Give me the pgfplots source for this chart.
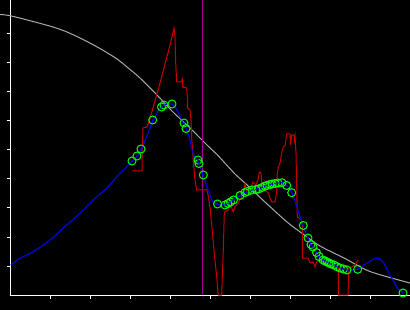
\documentclass[border=0pt]{standalone}
\usepackage{pgfplots}
\pgfplotsset{compat=1.18}
\definecolor{rd}{RGB}{200,0,0}
\definecolor{bl}{RGB}{0,0,255}
\definecolor{gr}{RGB}{0,255,0}
\definecolor{gy}{RGB}{170,170,170}
\definecolor{mg}{RGB}{160,0,160}
\begin{document}
\begin{tikzpicture}[x=1pt,y=1pt]
\useasboundingbox (0,0) rectangle (410,310);
\fill[black] (0,0) rectangle (410,310);
\begin{axis}[at={(10pt,15pt)}, anchor=south west, scale only axis,
  width=400pt, height=295pt,
  xmin=10, xmax=410, ymin=0, ymax=295, y dir=reverse,
  axis x line*=bottom, axis y line*=left, clip=false,
  axis line style={white, line width=1pt, -},
  tick style={white, line width=1pt}, major tick length=3.5pt, tick align=outside,
  xtick={50,90,130,170,210,250,290,330,370},
  ytick={34,63,92,121,150,179,208,237,266},
  xticklabels={}, yticklabels={}]
% gray curve
\addplot[gy, line width=1pt, smooth] coordinates {
(0,14.5) (10,15.7) (33,21.5) (53,27) (67,32) (83,39.5) (100,48.5) (117,59) (130,69.5) (140,78) (157,95) (173,112) (190,128) (208,146) (217,154.5) (235,174) (245,183) (265,202) (287,222) (303,234) (320,246) (345,258.5) (370,271.5) (410,283)};
% magenta vertical
\addplot[mg, line width=1pt] coordinates {(202,0) (202,295)};
% red signal
\addplot[rd, line width=1pt] coordinates {
(132,171) (142,171) (142,155) (143,128) (147,127) (150,118) (155,101) (160,83) (165,64) (170,45) (172,37) (174,28) (175,37) (175.7,63) (176.7,82) (181.7,82) (182.3,78) (182.7,87) (186.7,88) (187.7,100) (187.7,108) (190,110) (191,120) (191.7,138) (193.3,160) (195,180) (196.7,190) (206.7,190) (207.7,193) (210,207) (211.7,225) (213.3,243) (215,260) (216.7,277) (217.7,290) (218.3,295) (221.7,295) (222.3,277) (223.3,250) (224.3,213) (225,211.7) (228.3,210) (230,205) (231.7,208) (233.3,211.7) (235,206.7) (238,203) (241.7,197) (245,184) (247,193) (250,190) (253,182) (256,185) (258,180) (259.3,172) (261,173) (261.7,182) (263.3,185) (265,190) (268.3,193) (270,198) (271.7,202) (275,202) (276.7,192) (277.3,173) (278.3,167) (280,163) (281.7,153) (283.3,147) (285,146) (286.7,134) (290,134) (290.5,145) (291.7,135) (294,135) (294.3,140) (295,136) (296,153) (296.7,187) (297.3,217) (301.7,220) (302.3,227) (302.3,258) (308,258) (310,263) (313,262) (315,267) (316.7,262) (320,260) (323,262) (328,263) (335,267) (338.3,268) (338.3,295) (348,295) (349,268) (351.7,267) (355,265) (356.7,262) (358.3,260)};
% blue fit
\addplot[bl, line width=1pt, smooth] coordinates {
(10.7,265) (20,258.3) (33.3,251.7) (50,240) (66.7,225) (80,213.3) (93.3,200) (106.7,188.3) (120,173.3) (130,163.3) (137,156) (142,148) (153,121) (161,107) (166,104.5) (172,104) (177,110) (183,123) (188,133) (193,153) (198,162) (203,175) (208,190) (213,202) (217.5,204.5) (225,204.5) (233,200) (240,196) (247,192) (252,190) (258,189) (263,187) (270,184.5) (278,183) (283,183) (287,186) (292,193) (303,225) (308,238) (313,248) (317,254) (323,260) (327,262.5) (335,266) (347,270) (358,269) (367,263) (377,258) (383,262) (390,275) (397,287) (403,293)};
% green circles
\addplot[only marks, mark=o, mark size=4pt, gr, mark options={line width=1pt}] coordinates {
(132,161) (137,156) (141,149) (152.7,120) (161.5,107) (164,105) (172,104) (184,123) (186,128.5) (198,160) (199,163.5) (203.3,175) (217.5,204) (225,205) (228,203.5) (230.5,202) (233.5,200) (240,195.5) (245,192.5) (247.5,191.5) (252,190) (256,189.5) (258.5,189) (262,187.5) (265,186) (267,185.5) (270,184.5) (272,184) (275,183.5) (278,183) (282,182.7) (286.7,185.5) (291.7,192.7) (303.3,225.5) (308,238) (311,244.5) (313,247) (316.5,252.5) (319,256.5) (323,260) (325,261) (327,262) (329,263) (331,264) (334,265) (337,266.7) (340,268) (343.5,269) (347,270) (357.7,269.3) (403,293)};
\addplot[only marks, mark=*, mark size=0.6pt, bl] coordinates {
(132,161) (137,156) (141,149) (152.7,120) (161.5,107) (164,105) (172,104) (184,123) (186,128.5) (198,160) (199,163.5) (203.3,175) (217.5,204) (225,205) (228,203.5) (230.5,202) (233.5,200) (240,195.5) (245,192.5) (247.5,191.5) (252,190) (256,189.5) (258.5,189) (262,187.5) (265,186) (267,185.5) (270,184.5) (272,184) (275,183.5) (278,183) (282,182.7) (286.7,185.5) (291.7,192.7) (303.3,225.5) (308,238) (311,244.5) (313,247) (316.5,252.5) (319,256.5) (323,260) (325,261) (327,262) (329,263) (331,264) (334,265) (337,266.7) (340,268) (343.5,269) (347,270) (357.7,269.3) (403,293)};
\end{axis}
\end{tikzpicture}
\end{document}
